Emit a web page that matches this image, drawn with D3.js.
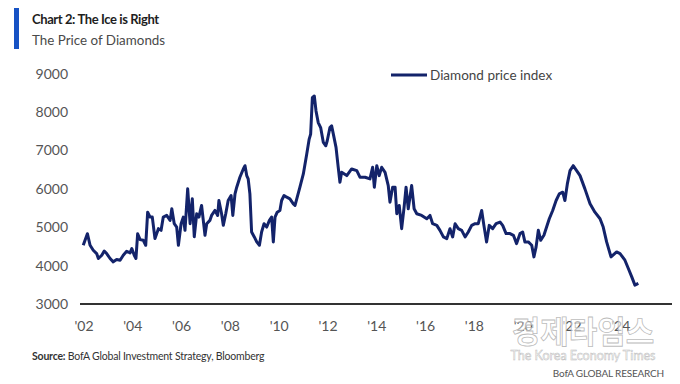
<!DOCTYPE html>
<html>
<head>
<meta charset="utf-8">
<script src="https://cdn.jsdelivr.net/npm/d3@7"></script>
<style>
  body { margin: 0; background: #fff; }
  svg { display: block; font-family: Lato, "Open Sans", sans-serif; }
</style>
</head>
<body>
<script>
const years = [
  2002.01, 2002.18, 2002.29, 2002.42, 2002.56, 2002.63, 2002.77, 2002.87, 2002.97, 2003.11,
  2003.24, 2003.38, 2003.52, 2003.65, 2003.79, 2003.93, 2004.00, 2004.10, 2004.17, 2004.24,
  2004.34, 2004.47, 2004.57, 2004.65, 2004.75, 2004.84, 2004.95, 2005.09, 2005.20, 2005.29,
  2005.43, 2005.57, 2005.64, 2005.74, 2005.84, 2005.91, 2006.02, 2006.11, 2006.18, 2006.29,
  2006.39, 2006.48, 2006.56, 2006.66, 2006.75, 2006.86, 2006.93, 2007.00, 2007.07, 2007.20,
  2007.27, 2007.41, 2007.52, 2007.57, 2007.68, 2007.75, 2007.85, 2007.95, 2008.07, 2008.14,
  2008.23, 2008.30, 2008.43, 2008.57, 2008.64, 2008.71, 2008.77, 2008.84, 2008.91, 2009.02,
  2009.12, 2009.23, 2009.32, 2009.42, 2009.53, 2009.64, 2009.73, 2009.80, 2009.87, 2009.96,
  2010.07, 2010.14, 2010.24, 2010.35, 2010.48, 2010.62, 2010.69, 2010.78, 2010.89, 2011.03,
  2011.17, 2011.27, 2011.33, 2011.40, 2011.48, 2011.55, 2011.64, 2011.74, 2011.85, 2011.95,
  2012.01, 2012.12, 2012.19, 2012.26, 2012.37, 2012.46, 2012.53, 2012.60, 2012.81, 2013.01,
  2013.22, 2013.35, 2013.56, 2013.76, 2013.87, 2013.94, 2014.04, 2014.14, 2014.24, 2014.38,
  2014.51, 2014.58, 2014.69, 2014.79, 2014.86, 2014.96, 2015.06, 2015.16, 2015.24, 2015.33,
  2015.47, 2015.57, 2015.68, 2015.88, 2016.09, 2016.22, 2016.33, 2016.50, 2016.63, 2016.77,
  2016.91, 2017.04, 2017.15, 2017.25, 2017.38, 2017.52, 2017.66, 2017.79, 2017.93, 2018.07,
  2018.20, 2018.34, 2018.43, 2018.54, 2018.65, 2018.79, 2018.93, 2019.09, 2019.20, 2019.34,
  2019.50, 2019.64, 2019.77, 2019.91, 2020.02, 2020.11, 2020.25, 2020.39, 2020.48, 2020.57,
  2020.66, 2020.76, 2020.89, 2021.00, 2021.11, 2021.25, 2021.39, 2021.52, 2021.66, 2021.75,
  2021.85, 2021.96, 2022.09, 2022.23, 2022.37, 2022.57, 2022.78, 2022.98, 2023.19, 2023.32,
  2023.46, 2023.64, 2023.87, 2024.01, 2024.21, 2024.35, 2024.49, 2024.62, 2024.76
];

const prices = [
  4528, 4830, 4530, 4400, 4313, 4184, 4270, 4380, 4313, 4184,
  4097, 4158, 4140, 4270, 4373, 4330, 4443, 4270, 4184, 4830,
  4676, 4658, 4528, 5391, 5262, 5262, 4702, 4961, 4917, 5262,
  5306, 5176, 5479, 5090, 5003, 4528, 5090, 5262, 4917, 5997,
  5090, 5738, 4750, 5349, 5262, 5565, 5176, 4788, 5090, 5176,
  5306, 5435, 5306, 5694, 5349, 5047, 5349, 5694, 5824, 5306,
  5867, 6040, 6300, 6515, 6600, 6342, 6256, 5867, 4875, 4746,
  4616, 4530, 4875, 5090, 5003, 5176, 5262, 4616, 5262, 5391,
  5435, 5694, 5824, 5780, 5738, 5608, 5565, 5780, 6040, 6386,
  6904, 7293, 7422, 8370, 8415, 8026, 7723, 7593, 7205, 7119,
  7249, 7593, 7637, 7422, 7076, 6558, 6168, 6428, 6342, 6515,
  6472, 6300, 6300, 6256, 6558, 6040, 6600, 6342, 6558, 6428,
  6083, 5651, 6040, 6040, 5349, 5565, 4961, 5522, 6040, 5479,
  6083, 5479, 5349, 5306, 5219, 5306, 5090, 5047, 4917, 4746,
  4702, 4961, 4746, 5090, 4961, 4917, 4746, 4875, 5047, 5090,
  5090, 5435, 5047, 4616, 5047, 4961, 5090, 5133, 5047, 4832,
  4832, 4788, 4572, 4832, 4875, 4616, 4616, 4530, 4227, 4486,
  4917, 4658, 4788, 5003, 5220, 5435, 5694, 5867, 5910, 5694,
  6126, 6472, 6600, 6472, 6342, 5997, 5608, 5391, 5220, 5003,
  4616, 4227, 4356, 4313, 4140, 3924, 3707, 3492, 3535
];

const yTicks = [3000, 4000, 5000, 6000, 7000, 8000, 9000];
const xTicks = [2002, 2004, 2006, 2008, 2010, 2012, 2014, 2016, 2018, 2020, 2022, 2024];

const W = 680, H = 384;
const svg = d3.select("body").append("svg").attr("width", W).attr("height", H);

const x = d3.scaleLinear().domain([2002, 2024]).range([83, 619.8]);
const y = d3.scaleLinear().domain([3000, 9000]).range([304, 73.5]);

// header
svg.append("rect").attr("x", 14).attr("y", 8).attr("width", 5).attr("height", 41).attr("fill", "#1652c4");
svg.append("text").attr("x", 32).attr("y", 24)
  .attr("font-size", 13).attr("font-weight", 700).attr("fill", "#1e1e1e")
  .attr("letter-spacing", -0.4)
  .text("Chart 2: The Ice is Right");
svg.append("text").attr("x", 32).attr("y", 45)
  .attr("font-size", 13.4).attr("fill", "#4a4a4a")
  .text("The Price of Diamonds");

// y labels
svg.append("g").selectAll("text").data(yTicks).join("text")
  .attr("x", 68).attr("y", d => y(d) + 5)
  .attr("text-anchor", "end").attr("font-size", 14).attr("fill", "#555")
  .text(d => d);

// baseline
svg.append("line").attr("x1", 80).attr("x2", 672).attr("y1", y(3000)).attr("y2", y(3000))
  .attr("stroke", "#333").attr("stroke-width", 2);

// x labels
svg.append("g").selectAll("text").data(xTicks).join("text")
  .attr("x", d => x(d) + 1).attr("y", 331)
  .attr("text-anchor", "middle").attr("font-size", 14).attr("fill", "#555")
  .text(d => "'" + String(d).slice(2));

// line
const pts = years.map((yr, i) => [yr, prices[i]]);
svg.append("path").datum(pts)
  .attr("fill", "none").attr("stroke", "#13236a").attr("stroke-width", 3)
  .attr("stroke-linejoin", "round")
  .attr("d", d3.line().x(d => x(d[0])).y(d => y(d[1])));

// legend
svg.append("line").attr("x1", 391).attr("x2", 427).attr("y1", 75).attr("y2", 75)
  .attr("stroke", "#13236a").attr("stroke-width", 3);
svg.append("text").attr("x", 430).attr("y", 80)
  .attr("font-size", 13.5).attr("fill", "#444").text("Diamond price index");

// watermark
svg.append("text").attr("x", 583).attr("y", 343).attr("text-anchor", "middle")
  .attr("font-family", "'Noto Sans CJK KR', sans-serif").attr("font-size", 31).attr("font-weight", 700)
  .attr("fill", "#fff").attr("fill-opacity", 0.6).attr("stroke", "#aaa").attr("stroke-opacity", 0.8)
  .attr("stroke-width", 0.8)
  .text("경제타임스");
svg.append("text").attr("x", 583).attr("y", 360).attr("text-anchor", "middle")
  .attr("font-size", 12.5).attr("fill", "#fff").attr("stroke", "#bbb").attr("stroke-width", 0.5)
  .text("The Korea Economy Times");

// footer
const src = svg.append("text").attr("x", 32).attr("y", 360).attr("font-size", 10.5)
  .attr("fill", "#333").attr("letter-spacing", -0.2);
src.append("tspan").attr("font-weight", 700).text("Source:");
src.append("tspan").text(" BofA Global Investment Strategy, Bloomberg");
svg.append("text").attr("x", 664).attr("y", 377).attr("text-anchor", "end")
  .attr("font-size", 10).attr("fill", "#555").attr("letter-spacing", -0.2)
  .text("BofA GLOBAL RESEARCH");
</script>
</body>
</html>
